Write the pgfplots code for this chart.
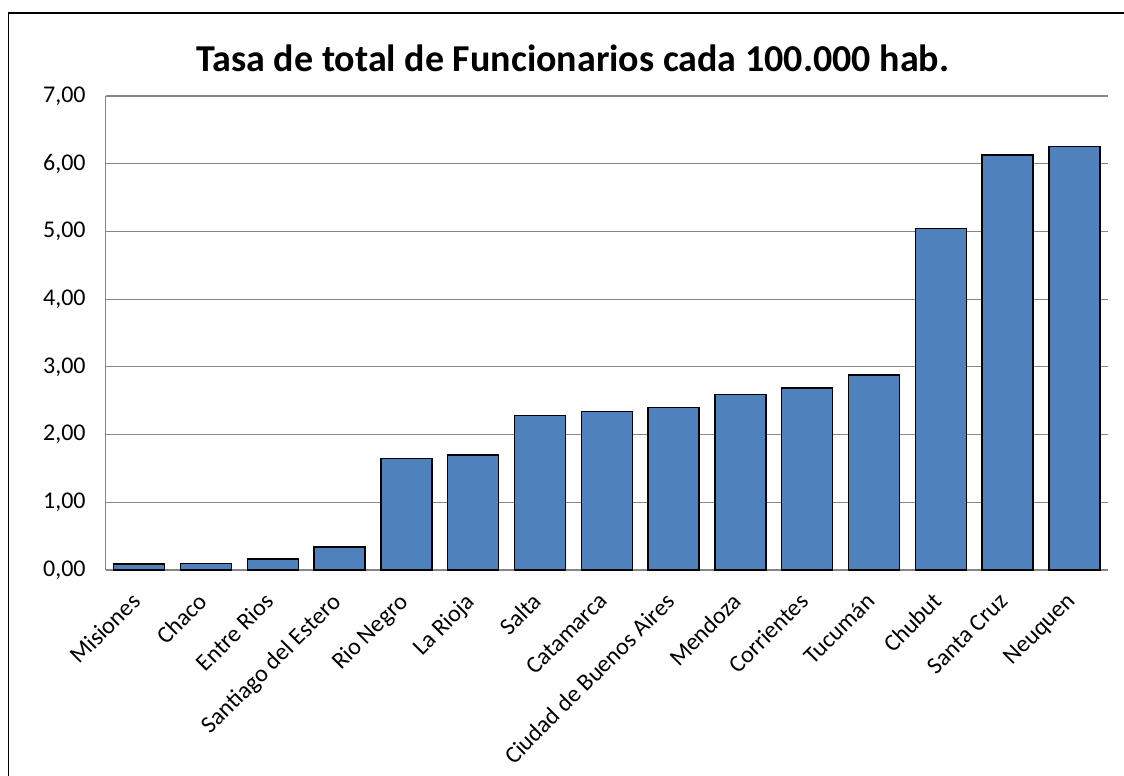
\documentclass[border=0pt]{standalone}
\usepackage{fontspec}
\setmainfont{Carlito}
\usepackage{pgfplots}
\pgfplotsset{compat=1.18}
\definecolor{barblue}{HTML}{4F81BD}
\definecolor{gridgray}{HTML}{868686}

\begin{document}
\begin{tikzpicture}
\begin{axis}[
  scale only axis, width=501pt, height=237pt,
  xmin=-0.5, xmax=14.5, ymin=0, ymax=7,
  ytick={0,1,...,7},
  xtick=data,
  xticklabels={Misiones,Chaco,Entre Rios,Santiago del Estero,Rio Negro,La Rioja,Salta,Catamarca,Ciudad de Buenos Aires,Mendoza,Corrientes,Tucumán,Chubut,Santa Cruz,Neuquen},
  x tick label style={xshift=-4.5pt, yshift=-9pt, rotate=45, anchor=north east, font=\fontsize{12}{14}\selectfont, inner sep=1pt},
  y tick label style={font=\fontsize{12}{14}\selectfont, xshift=-6.5pt},
  /pgf/number format/.cd, fixed, fixed zerofill, precision=2, use comma, assume math mode=true,
  /pgfplots/.cd,
  major tick length=0pt,
  ymajorgrids, grid style={gridgray, line width=0.6pt},
  axis x line*=bottom, axis y line*=left,
  axis line style={gridgray, line width=0.6pt, -},
  clip=false,
]
\addplot[ybar, bar width=25.5pt, fill=barblue, draw=black, line width=0.7pt] coordinates {
(0,0.09) (1,0.10) (2,0.16) (3,0.34) (4,1.65) (5,1.70) (6,2.28) (7,2.34)
(8,2.40) (9,2.59) (10,2.69) (11,2.88) (12,5.04) (13,6.13) (14,6.25)
};
\coordinate (o) at (rel axis cs:0,0);
\end{axis}
% whole chart area, as cut in the reference
\path[use as bounding box] ([shift={(-52.85pt,-103pt)}]o) rectangle ([shift={(509.15pt,285pt)}]o);
\draw[black, line width=0.9pt] ([shift={(-48.6pt,-104pt)}]o) -- ([shift={(-48.6pt,278.5pt)}]o) -- ([shift={(512pt,278.5pt)}]o);
\node[font=\bfseries\fontsize{19}{22}\selectfont] at ([shift={(233.6pt,256pt)}]o) {Tasa de total de Funcionarios cada 100.000 hab.};
\end{tikzpicture}
\end{document}
